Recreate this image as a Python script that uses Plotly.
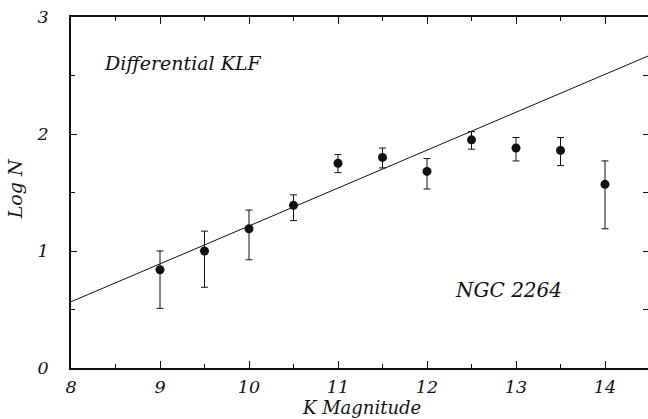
import plotly.graph_objects as go

# Differential K-band luminosity function of NGC 2264
k_mag = [9.0, 9.5, 10.0, 10.5, 11.0, 11.5, 12.0, 12.5, 13.0, 13.5, 14.0]
log_n = [0.84, 1.00, 1.19, 1.39, 1.75, 1.80, 1.68, 1.95, 1.88, 1.86, 1.57]
err_plus = [0.16, 0.17, 0.16, 0.09, 0.075, 0.08, 0.11, 0.07, 0.09, 0.11, 0.20]
err_minus = [0.33, 0.31, 0.265, 0.13, 0.08, 0.09, 0.15, 0.08, 0.11, 0.13, 0.38]

# Power-law fit line endpoints
fit_k = [8.0, 14.5]
fit_log_n = [0.566, 2.672]

x_ticks = [8, 9, 10, 11, 12, 13, 14]
y_ticks = [0, 1, 2, 3]

serif = "DejaVu Serif"
ink = "#111111"

fig = go.Figure()

fig.add_trace(go.Scatter(
    x=fit_k, y=fit_log_n, mode="lines",
    line=dict(color=ink, width=1), hoverinfo="skip", showlegend=False,
))

fig.add_trace(go.Scatter(
    x=k_mag, y=log_n, mode="markers",
    marker=dict(color=ink, size=9, symbol="circle"),
    error_y=dict(type="data", symmetric=False, array=err_plus,
                 arrayminus=err_minus, color=ink, thickness=1, width=3.5),
    showlegend=False,
))

# Right-hand tick marks without a frame line
fig.add_trace(go.Scatter(x=[8], y=[0], yaxis="y2", mode="markers",
                         marker=dict(opacity=0), hoverinfo="skip",
                         showlegend=False))

tick_font = dict(family=serif, size=17.5, color=ink, style="italic")
label_font = dict(family=serif, size=19, color=ink, style="italic")

fig.update_layout(
    width=648, height=419,
    margin=dict(l=71, r=0, t=17, b=51),
    paper_bgcolor="white", plot_bgcolor="white",
    xaxis=dict(
        range=[8, 14.483], tickvals=x_ticks, ticktext=[str(v) for v in x_ticks],
        ticks="inside", ticklen=7, tickwidth=1, tickcolor=ink,
        minor=dict(dtick=0.5, tick0=8, ticks="inside", ticklen=4,
                   tickwidth=1, tickcolor=ink),
        showline=True, linecolor=ink, linewidth=1.5, mirror="ticks",
        showgrid=False, zeroline=False, tickfont=tick_font,
        ticklabelstandoff=2,
    ),
    yaxis=dict(
        range=[0, 3], tickvals=y_ticks, ticktext=[str(v) for v in y_ticks],
        ticks="inside", ticklen=6, tickwidth=1, tickcolor=ink,
        minor=dict(dtick=0.5, tick0=0, ticks="inside", ticklen=4,
                   tickwidth=1, tickcolor=ink),
        showline=True, linecolor=ink, linewidth=1.5,
        showgrid=False, zeroline=False, tickfont=tick_font,
        ticklabelstandoff=17,
    ),
    yaxis2=dict(
        range=[0, 3], overlaying="y", side="right", anchor="x",
        tickvals=[0.5, 1, 1.5, 2, 2.5], ticks="inside", ticklen=5,
        tickwidth=1, tickcolor=ink, showticklabels=False,
        showline=False, showgrid=False, zeroline=False,
    ),
    annotations=[
        dict(text="Differential KLF", x=8.348, y=2.61, xref="x", yref="y",
             xanchor="left", yanchor="middle", showarrow=False,
             font=label_font),
        dict(text="NGC 2264", x=12.29, y=0.667, xref="x", yref="y",
             xanchor="left", yanchor="middle", showarrow=False,
             font=dict(family=serif, size=20, color=ink, style="italic")),
        dict(text="K Magnitude", x=0.503, y=0.0, xref="paper", yref="paper",
             xanchor="center", yanchor="bottom", yshift=-51, borderpad=0,
             showarrow=False,
             font=dict(family=serif, size=18, color=ink, style="italic")),
        dict(text="Log N", x=-0.097, y=0.509, xref="paper", yref="paper",
             xanchor="center", yanchor="middle", showarrow=False, textangle=-90,
             font=label_font),
    ],
)

fig.write_html("out.html")
